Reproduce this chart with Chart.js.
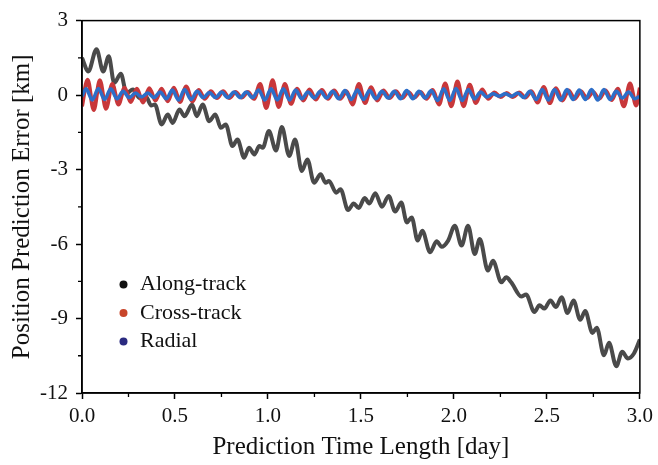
<!DOCTYPE html>
<html>
<head>
<meta charset="utf-8">
<script src="https://cdn.jsdelivr.net/npm/chart.js@4"></script>
<style>
  html, body { margin: 0; padding: 0; background: #fff; }
</style>
</head>
<body>
<canvas id="chart" width="658" height="465"></canvas>
<script>
// Series names and legend dot colours
const seriesNames = ['Along-track', 'Cross-track', 'Radial'];
const lineColors = ['#4a4a4a', '#c8373a', '#2d6ec8'];
const legendDotColors = ['#111111', '#c8452a', '#2a2a80'];

// Along-track error [km] vs prediction time [day] (peaks / troughs)
const alongDays = [
  0.000, 0.034, 0.078, 0.114, 0.144, 0.173, 0.209, 0.239, 0.274, 0.310,
  0.345, 0.372, 0.392, 0.428, 0.461, 0.488, 0.524, 0.551, 0.592, 0.617,
  0.649, 0.684, 0.717, 0.747, 0.773, 0.809, 0.836, 0.872, 0.898, 0.927,
  0.954, 0.972, 1.005, 1.043, 1.075, 1.114, 1.146, 1.182, 1.212, 1.248,
  1.283, 1.310, 1.328, 1.367, 1.390, 1.431, 1.461, 1.488, 1.520, 1.545,
  1.577, 1.613, 1.649, 1.684, 1.717, 1.747, 1.773, 1.805, 1.830, 1.872,
  1.907, 1.934, 1.969, 2.005, 2.041, 2.076, 2.112, 2.139, 2.183, 2.210,
  2.255, 2.281, 2.308, 2.362, 2.388, 2.433, 2.460, 2.487, 2.519, 2.549,
  2.579, 2.611, 2.643, 2.679, 2.706, 2.745, 2.768, 2.807, 2.834, 2.873,
  2.905, 2.936, 2.968, 3.000
];
const alongKm = [
  1.50, 0.95, 1.85, 0.95, 1.56, 0.49, 0.86, 0.08, 0.22, -0.12,
  -0.08, -0.42, -0.38, -1.18, -0.78, -1.12, -0.58, -0.85, -0.38, -0.85,
  -0.38, -1.05, -0.78, -1.32, -1.18, -2.05, -1.79, -2.52, -2.12, -2.39,
  -2.05, -2.12, -1.45, -2.23, -1.29, -2.45, -1.79, -3.06, -2.59, -3.53,
  -3.19, -3.53, -3.46, -3.93, -3.79, -4.63, -4.37, -4.55, -4.15, -4.37,
  -3.95, -4.50, -4.06, -4.69, -4.33, -5.13, -4.93, -5.86, -5.46, -6.33,
  -5.89, -6.11, -5.86, -5.26, -6.06, -5.26, -6.40, -5.80, -7.07, -6.67,
  -7.54, -7.34, -7.54, -8.11, -8.03, -8.74, -8.47, -8.60, -8.27, -8.54,
  -8.14, -8.78, -8.27, -9.05, -8.70, -9.58, -9.37, -10.48, -9.98, -10.92,
  -10.34, -10.61, -10.41, -9.85
];

// Cross-track error [km]
const crossDays = [
  0.000,
  0.030, 0.063, 0.096, 0.129, 0.163, 0.196, 0.229, 0.262, 0.295, 0.328,
  0.362, 0.395, 0.428, 0.461, 0.494, 0.527, 0.560, 0.594, 0.627, 0.660,
  0.693, 0.726, 0.759, 0.792, 0.826, 0.859, 0.892, 0.925, 0.958, 0.991,
  1.025, 1.058, 1.091, 1.124, 1.157, 1.190, 1.223, 1.257, 1.290, 1.323,
  1.356, 1.389, 1.422, 1.455, 1.489, 1.522, 1.555, 1.588, 1.621, 1.654,
  1.688, 1.721, 1.754, 1.787, 1.820, 1.853, 1.886, 1.920, 1.953, 1.986,
  2.019, 2.052, 2.085, 2.118, 2.152, 2.185, 2.218, 2.251, 2.284, 2.317,
  2.351, 2.384, 2.417, 2.450, 2.483, 2.516, 2.549, 2.583, 2.616, 2.649,
  2.682, 2.715, 2.748, 2.781, 2.815, 2.848, 2.881, 2.914, 2.947, 2.980,
  3.000
];
const crossKm = [
  -0.45,
  0.62, -0.60, 0.60, -0.55, 0.45, -0.38, 0.30, -0.28, 0.25, -0.30,
  0.28, -0.22, 0.25, -0.25, 0.30, -0.28, 0.35, -0.25, 0.20, -0.15,
  0.15, -0.12, 0.15, -0.12, 0.12, -0.10, 0.12, -0.15, 0.45, -0.52,
  0.60, -0.48, 0.45, -0.35, 0.25, -0.22, 0.22, -0.18, 0.20, -0.15,
  0.18, -0.15, 0.15, -0.38, 0.45, -0.32, 0.32, -0.22, 0.18, -0.12,
  0.15, -0.12, 0.12, -0.10, 0.12, -0.15, 0.20, -0.38, 0.47, -0.45,
  0.55, -0.45, 0.42, -0.32, 0.22, -0.15, 0.10, -0.08, 0.08, -0.08,
  0.10, -0.10, 0.15, -0.30, 0.33, -0.32, 0.28, -0.22, 0.18, -0.15,
  0.15, -0.12, 0.12, -0.15, 0.18, -0.20, 0.25, -0.45, 0.47, -0.42,
  0.30
];

// Radial error [km]
const radialDays = [
  0.000,
  0.022, 0.055, 0.088, 0.121, 0.155, 0.188, 0.221, 0.254, 0.287, 0.320,
  0.354, 0.387, 0.420, 0.453, 0.486, 0.519, 0.552, 0.586, 0.619, 0.652,
  0.685, 0.718, 0.751, 0.784, 0.818, 0.851, 0.884, 0.917, 0.950, 0.983,
  1.017, 1.050, 1.083, 1.116, 1.149, 1.182, 1.215, 1.249, 1.282, 1.315,
  1.348, 1.381, 1.414, 1.447, 1.481, 1.514, 1.547, 1.580, 1.613, 1.646,
  1.680, 1.713, 1.746, 1.779, 1.812, 1.845, 1.878, 1.912, 1.945, 1.978,
  2.011, 2.044, 2.077, 2.110, 2.144, 2.177, 2.210, 2.243, 2.276, 2.309,
  2.343, 2.376, 2.409, 2.442, 2.475, 2.508, 2.541, 2.575, 2.608, 2.641,
  2.674, 2.707, 2.740, 2.773, 2.807, 2.840, 2.873, 2.906, 2.939, 2.972,
  3.000
];
const radialKm = [
  -0.05,
  0.25, -0.20, 0.27, -0.18, 0.25, -0.15, 0.15, -0.10, 0.08, -0.08,
  0.08, -0.10, 0.12, -0.15, 0.20, -0.20, 0.22, -0.18, 0.15, -0.10,
  0.10, -0.10, 0.12, -0.10, 0.12, -0.10, 0.12, -0.10, 0.20, -0.20,
  0.25, -0.20, 0.25, -0.20, 0.20, -0.15, 0.12, -0.12, 0.15, -0.12,
  0.15, -0.15, 0.18, -0.18, 0.20, -0.18, 0.18, -0.15, 0.15, -0.12,
  0.15, -0.15, 0.18, -0.15, 0.15, -0.12, 0.18, -0.22, 0.25, -0.22,
  0.27, -0.22, 0.22, -0.15, 0.12, -0.08, 0.05, -0.05, 0.05, -0.05,
  0.08, -0.10, 0.15, -0.18, 0.22, -0.20, 0.22, -0.20, 0.22, -0.18,
  0.20, -0.18, 0.22, -0.20, 0.22, -0.18, 0.15, -0.12, 0.12, -0.15,
  -0.05
];

// Minor tick positions (no labels)
const xMinorTicks = [0.25, 0.75, 1.25, 1.75, 2.25, 2.75];
const yMinorTicks = [1.5, -1.5, -4.5, -7.5, -10.5];

const SERIF = '"Liberation Serif", "Times New Roman", "DejaVu Serif", serif';

const toPoints = (days, km) => days.map((d, i) => ({ x: d, y: km[i] }));

// Box frame, minor ticks and the in-plot legend
const framePlugin = {
  id: 'frame',
  afterDraw(chart) {
    const { ctx, chartArea: a, scales } = chart;
    ctx.save();
    ctx.strokeStyle = '#000';
    ctx.lineWidth = 1.5;
    ctx.strokeRect(a.left, a.top, a.right - a.left, a.bottom - a.top);

    ctx.lineWidth = 1.3;
    ctx.beginPath();
    xMinorTicks.forEach((v) => {
      const px = scales.x.getPixelForValue(v);
      ctx.moveTo(px, a.bottom);
      ctx.lineTo(px, a.bottom + 4);
    });
    yMinorTicks.forEach((v) => {
      const py = scales.y.getPixelForValue(v);
      ctx.moveTo(a.left, py);
      ctx.lineTo(a.left - 4, py);
    });
    ctx.stroke();

    // legend
    ctx.font = '22px ' + SERIF;
    ctx.textBaseline = 'middle';
    ctx.textAlign = 'left';
    seriesNames.forEach((name, i) => {
      const y = a.top + 264 + i * 28.5;
      ctx.fillStyle = legendDotColors[i];
      ctx.beginPath();
      ctx.arc(a.left + 41.5, y, 4, 0, Math.PI * 2);
      ctx.fill();
      ctx.fillStyle = '#111';
      ctx.fillText(name, a.left + 58, y);
    });
    ctx.restore();
  },
};

new Chart(document.getElementById('chart'), {
  type: 'line',
  data: {
    datasets: [
      {
        label: seriesNames[0],
        data: toPoints(alongDays, alongKm),
        borderColor: lineColors[0],
        borderWidth: 4,
        order: 3,
      },
      {
        label: seriesNames[1],
        data: toPoints(crossDays, crossKm),
        borderColor: lineColors[1],
        borderWidth: 4,
        order: 2,
      },
      {
        label: seriesNames[2],
        data: toPoints(radialDays, radialKm),
        borderColor: lineColors[2],
        borderWidth: 3.5,
        order: 1,
      },
    ],
  },
  options: {
    responsive: false,
    animation: false,
    devicePixelRatio: 1,
    elements: { point: { radius: 0 }, line: { fill: false, cubicInterpolationMode: 'monotone' } },
    layout: { padding: { top: 19, right: 15, left: 0, bottom: 0 } },
    plugins: {
      legend: { display: false },
      tooltip: { enabled: false },
    },
    scales: {
      x: {
        type: 'linear',
        min: 0,
        max: 3,
        ticks: {
          stepSize: 0.5,
          maxRotation: 0,
          padding: 5,
          color: '#111',
          font: { family: SERIF, size: 21 },
          callback: (v) => v.toFixed(1),
        },
        grid: { drawOnChartArea: false, tickLength: 6, tickColor: '#000', tickWidth: 1.5 },
        border: { color: '#000', width: 1.5 },
        title: {
          display: true,
          text: 'Prediction Time Length [day]',
          color: '#111',
          font: { family: SERIF, size: 25 },
          padding: { top: 0, bottom: 3 },
        },
        afterFit: (s) => { s.height = 72; },
      },
      y: {
        min: -12,
        max: 3,
        ticks: {
          stepSize: 3,
          padding: 8,
          color: '#111',
          font: { family: SERIF, size: 21 },
        },
        grid: { drawOnChartArea: false, tickLength: 6, tickColor: '#000', tickWidth: 1.5 },
        border: { color: '#000', width: 1.5 },
        title: {
          display: true,
          text: 'Position Prediction Error [km]',
          color: '#111',
          font: { family: SERIF, size: 25 },
          padding: { top: 7, bottom: 0 },
        },
        afterFit: (s) => { s.width = 82; },
      },
    },
  },
  plugins: [framePlugin],
});
</script>
</body>
</html>
